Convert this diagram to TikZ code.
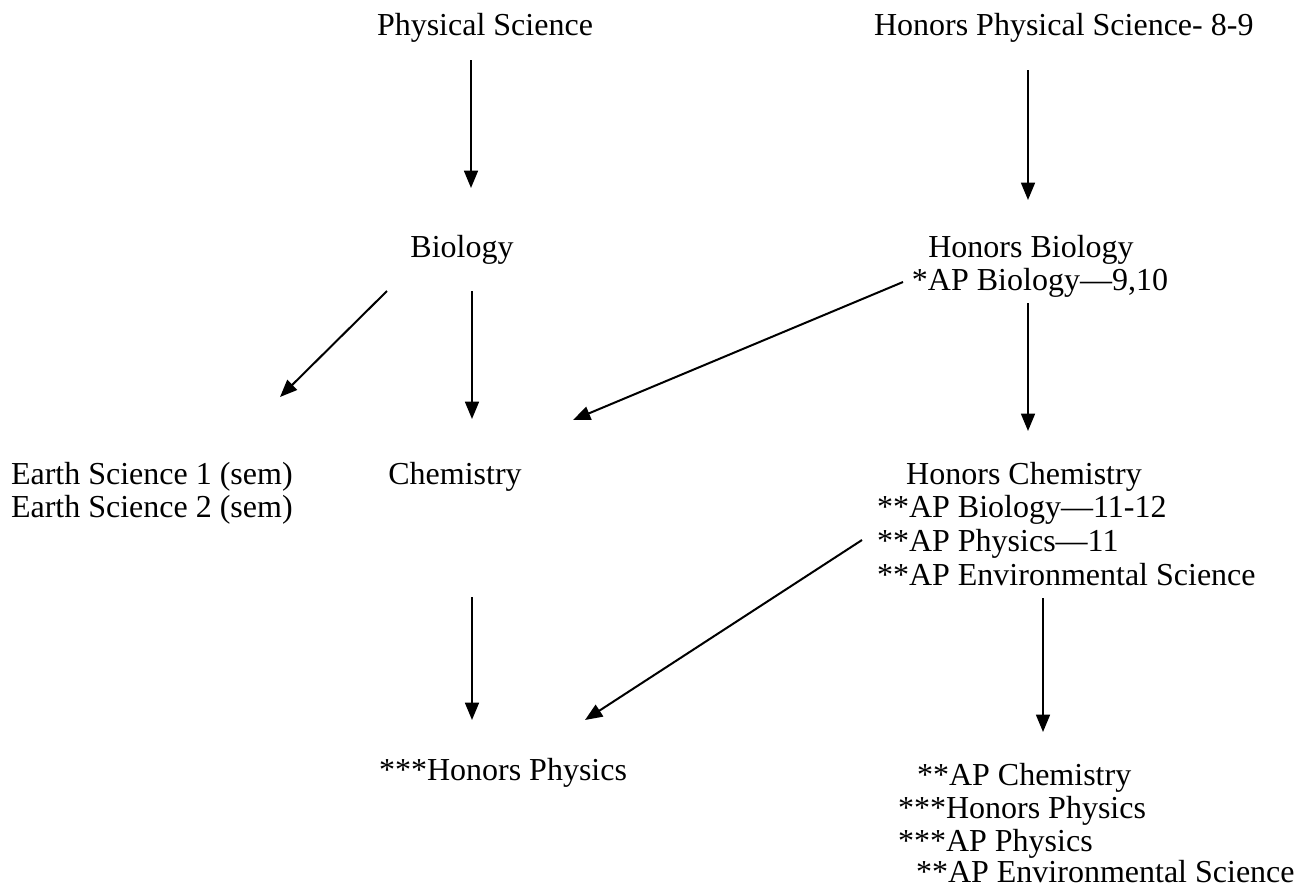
\documentclass[tikz,border=0pt]{standalone}
\usepackage{fontspec}
\setmainfont{Liberation Serif}
\usetikzlibrary{arrows.meta}
\begin{document}
\begin{tikzpicture}[x=0.375pt,y=-0.375pt,
  lbl/.style={inner sep=0pt,outer sep=0pt,font=\fontsize{12pt}{13.8pt}\selectfont},
  arr/.style={line width=0.75pt,-{Triangle[length=6.5pt,width=5.2pt]}}]
\useasboundingbox (0,0) rectangle (1295,886);
% nodes
\node[lbl,anchor=base west] (ps) at (377,35) {Physical Science};
\node[lbl,anchor=base west] (hps) at (874,35) {Honors Physical Science- 8-9};
\node[lbl,anchor=base] (bio) at (462,257) {Biology};
\node[lbl,anchor=base] (hbio) at (1031,257) {Honors Biology};
\node[lbl,anchor=base] (apbio1) at (1040,290) {*AP Biology---9,10};
\node[lbl,anchor=base west] (es1) at (11,484) {Earth Science 1 (sem)};
\node[lbl,anchor=base west] (es2) at (11,517) {Earth Science 2 (sem)};
\node[lbl,anchor=base] (chem) at (455,484) {Chemistry};
\node[lbl,anchor=base] (hchem) at (1024,484) {Honors Chemistry};
\node[lbl,anchor=base west] (apbio2) at (877,517) {**AP Biology---11-12};
\node[lbl,anchor=base west] (apphys1) at (877,551) {**AP Physics---11};
\node[lbl,anchor=base west] (apenv1) at (877,585) {**AP Environmental Science};
\node[lbl,anchor=base west] (hphys) at (379,780) {***Honors Physics};
\node[lbl,anchor=base west] (apchem) at (917,785) {**AP Chemistry};
\node[lbl,anchor=base west] (hphys2) at (898,818) {***Honors Physics};
\node[lbl,anchor=base west] (apphys2) at (898,851) {***AP Physics};
\node[lbl,anchor=base west] (apenv2) at (916,882) {**AP Environmental Science};
% arrow end points
\coordinate (a1s) at (471,60);   \coordinate (a1e) at (471,188);
\coordinate (a2s) at (1028,70);  \coordinate (a2e) at (1028,200);
\coordinate (a3s) at (387,291);  \coordinate (a3e) at (280,397);
\coordinate (a4s) at (472,291);  \coordinate (a4e) at (472,419);
\coordinate (a5s) at (903,282);  \coordinate (a5e) at (573,420);
\coordinate (a6s) at (1028,303); \coordinate (a6e) at (1028,431);
\coordinate (a7s) at (472,597);  \coordinate (a7e) at (472,720);
\coordinate (a8s) at (862,540);  \coordinate (a8e) at (585,720);
\coordinate (a9s) at (1043,598); \coordinate (a9e) at (1043,732);
\draw[arr] (a1s) -- (a1e);
\draw[arr] (a2s) -- (a2e);
\draw[arr] (a3s) -- (a3e);
\draw[arr] (a4s) -- (a4e);
\draw[arr] (a5s) -- (a5e);
\draw[arr] (a6s) -- (a6e);
\draw[arr] (a7s) -- (a7e);
\draw[arr] (a8s) -- (a8e);
\draw[arr] (a9s) -- (a9e);
\end{tikzpicture}
\end{document}
